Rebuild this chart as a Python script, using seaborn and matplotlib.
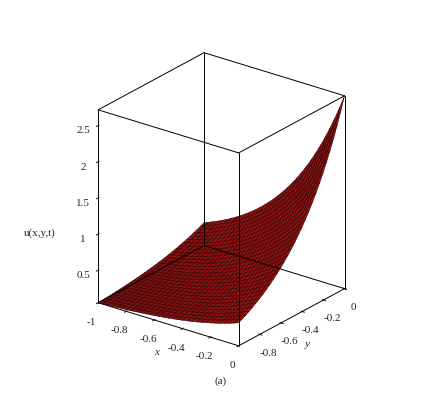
import matplotlib
matplotlib.use("Agg")
import matplotlib.pyplot as plt
import numpy as np
import seaborn as sns
from itertools import product

sns.set_style("white")
plt.rcParams["font.family"] = ["Liberation Serif", "DejaVu Serif"]

# grid
x_vals = [-1.0, -0.8, -0.6, -0.4, -0.2, 0.0]
y_vals = [-1.0, -0.8, -0.6, -0.4, -0.2, 0.0]
# u(x,y,t) at each (y row, x column)
u_vals = [
    [0.050, 0.074, 0.111, 0.165, 0.247, 0.368],
    [0.074, 0.111, 0.165, 0.247, 0.368, 0.549],
    [0.111, 0.165, 0.247, 0.368, 0.549, 0.819],
    [0.165, 0.247, 0.368, 0.549, 0.819, 1.221],
    [0.247, 0.368, 0.549, 0.819, 1.221, 1.822],
    [0.368, 0.549, 0.819, 1.221, 1.822, 2.718],
]

xs = np.array(x_vals)
ys = np.array(y_vals)
logU = np.log(np.array(u_vals))

# denser mesh: bilinear interpolation of log u between the read values
n = 31
xf = np.linspace(xs[0], xs[-1], n)
yf = np.linspace(ys[0], ys[-1], n)
tmp = np.array([np.interp(xf, xs, row) for row in logU])
Uf = np.exp(np.array([np.interp(yf, ys, tmp[:, j]) for j in range(n)]).T)
XF, YF = np.meshgrid(xf, yf)

fig = plt.figure(figsize=(4.42, 4.0), dpi=100)
ax = fig.add_axes([0.0, 0.05, 0.98, 0.88], projection="3d")
ax.set_proj_type("ortho")
ax.set_box_aspect((1, 1, 1.2), zoom=0.9)
ax.plot_surface(XF, YF, Uf, color="#9a0f0f", edgecolor="#200000",
                linewidth=0.35, shade=True, antialiased=True)

zmin, zmax = Uf.min(), Uf.max()
ax.set_xlim(xs[0], xs[-1])
ax.set_ylim(ys[0], ys[-1])
ax.set_zlim(zmin, zmax)

# bounding box
lims = [(xs[0], xs[-1]), (ys[0], ys[-1]), (zmin, zmax)]
for i in range(3):
    others = [j for j in range(3) if j != i]
    for c in product(*[lims[j] for j in others]):
        p = [0, 0, 0]
        q = [0, 0, 0]
        p[i], q[i] = lims[i]
        for j, v in zip(others, c):
            p[j] = q[j] = v
        ax.plot([p[0], q[0]], [p[1], q[1]], [p[2], q[2]], color="black", lw=0.7)

for axis in (ax.xaxis, ax.yaxis, ax.zaxis):
    axis.set_pane_color((1, 1, 1, 0))
    axis.line.set_color((1, 1, 1, 0))
ax.grid(False)

ax.set_xticks([-1, -0.8, -0.6, -0.4, -0.2, 0])
ax.set_xticklabels(["-1", "-0.8", "-0.6", "-0.4", "-0.2", "0"])
ax.set_yticks([-0.8, -0.6, -0.4, -0.2, 0])
ax.set_yticklabels(["-0.8", "-0.6", "-0.4", "-0.2", "0"])
ax.set_zticks([0.5, 1, 1.5, 2, 2.5])
ax.set_zticklabels(["0.5", "1", "1.5", "2", "2.5"])
ax.zaxis.set_ticks_position("lower")
ax.tick_params(labelsize=8, pad=0)
ax.set_xlabel("x", fontstyle="italic", fontsize=8, labelpad=-6)
ax.set_ylabel("y", fontstyle="italic", fontsize=8, labelpad=-6)
ax.view_init(elev=24, azim=-53)

fig.text(0.055, 0.41, "u(x,y,t)", fontsize=8)
fig.text(0.5, 0.04, "(a)", ha="center", fontsize=8)
fig.savefig("out.png", dpi=100)
